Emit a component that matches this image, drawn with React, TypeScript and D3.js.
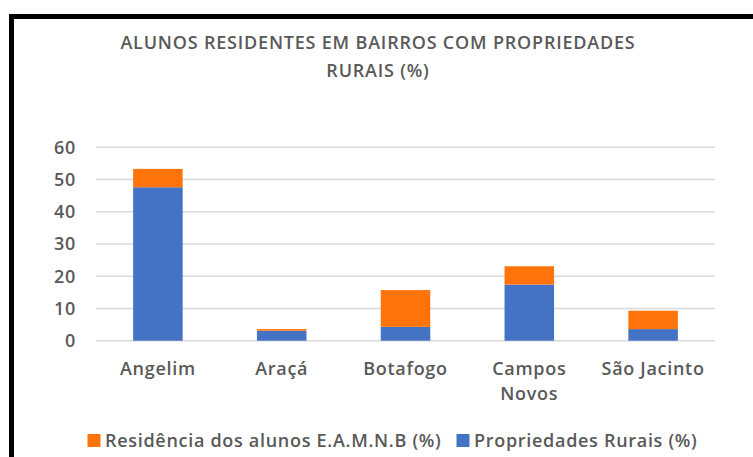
import * as d3 from "d3";

const bairros = ["Angelim", "Araçá", "Botafogo", "Campos Novos", "São Jacinto"];
const propriedadesRurais = [47.6, 3.1, 4.3, 17.4, 3.6];
const residenciaAlunos = [5.7, 0.5, 11.4, 5.7, 5.7];
const yTicks = [0, 10, 20, 30, 40, 50, 60];
const seriesNames = ["Propriedades Rurais (%)", "Residência dos alunos E.A.M.N.B (%)"];
const titleLines = ["ALUNOS RESIDENTES EM BAIRROS COM PROPRIEDADES", "RURAIS (%)"];

const WIDTH = 753;
const HEIGHT = 457;
const MARGIN = { TOP: 147.3, BOTTOM: 116.3, LEFT: 96, RIGHT: 38 };
const FONT = "'Open Sans', sans-serif";
const TEXT_COLOR = "#595959";
const COLORS = { prop: "#4472C4", res: "#FF740A" };

const App = () => {
  const innerW = WIDTH - MARGIN.LEFT - MARGIN.RIGHT;
  const innerH = HEIGHT - MARGIN.TOP - MARGIN.BOTTOM;

  const x = d3
    .scaleBand<string>()
    .domain(bairros)
    .range([0, innerW])
    .paddingInner(0.6)
    .paddingOuter(0.3);
  const y = d3.scaleLinear().domain([0, 60]).range([innerH, 0]);

  const rows = bairros.map((b, i) => ({
    bairro: b,
    prop: propriedadesRurais[i],
    res: residenciaAlunos[i],
  }));
  const stacked = d3.stack<any>().keys(["prop", "res"])(rows);

  return (
    <svg
      width={WIDTH}
      height={HEIGHT}
      style={{ position: "absolute", left: 0, top: 0, background: "#fff" }}
      fontFamily={FONT}
      letterSpacing={0.7}
    >
      <rect x={11.5} y={16.5} width={800} height={500} fill="#fff" stroke="#000" strokeWidth={5} />

      {/* title */}
      <g fill={TEXT_COLOR} fontSize={18} fontWeight={600} textAnchor="middle" letterSpacing={0.8}>
        {titleLines.map((t, i) => (
          <text key={t} x={378} y={49} dy={i * 28}>
            {t}
          </text>
        ))}
      </g>

      <g transform={`translate(${MARGIN.LEFT}, ${MARGIN.TOP})`}>
        {/* grid + y labels */}
        {yTicks.map((t) => (
          <g key={t} transform={`translate(0, ${y(t)})`}>
            <line x1={0} x2={innerW} stroke="#D9D9D9" strokeWidth={1.5} />
            <text
              x={-20}
              dy="0.35em"
              textAnchor="end"
              fontSize={18}
              fontWeight={600}
              fill={TEXT_COLOR}
            >
              {t}
            </text>
          </g>
        ))}

        {/* bars */}
        {stacked.map((layer) => (
          <g key={layer.key} fill={COLORS[layer.key as "prop" | "res"]}>
            {layer.map((d) => (
              <rect
                key={d.data.bairro}
                x={x(d.data.bairro)}
                y={y(d[1])}
                width={x.bandwidth()}
                height={y(d[0]) - y(d[1])}
              />
            ))}
          </g>
        ))}

        {/* x labels */}
        {bairros.map((b) => {
          const words = b === "Campos Novos" ? ["Campos", "Novos"] : [b];
          const cx = (x(b) ?? 0) + x.bandwidth() / 2;
          return (
            <text
              key={b}
              y={innerH + 34.5}
              textAnchor="middle"
              fontSize={18}
              fontWeight={600}
              fill={TEXT_COLOR}
            >
              {words.map((w, i) => (
                <tspan key={w} x={cx} dy={i === 0 ? 0 : 25}>
                  {w}
                </tspan>
              ))}
            </text>
          );
        })}
      </g>

      {/* legend */}
      <g fontSize={18} fontWeight={600} fill={TEXT_COLOR}>
        <rect x={87.5} y={434} width={13} height={13} fill={COLORS.res} />
        <text x={105} y={447}>{seriesNames[1]}</text>
        <rect x={456.5} y={434} width={13} height={13} fill={COLORS.prop} />
        <text x={474} y={447}>{seriesNames[0]}</text>
      </g>
    </svg>
  );
};

export default App;
